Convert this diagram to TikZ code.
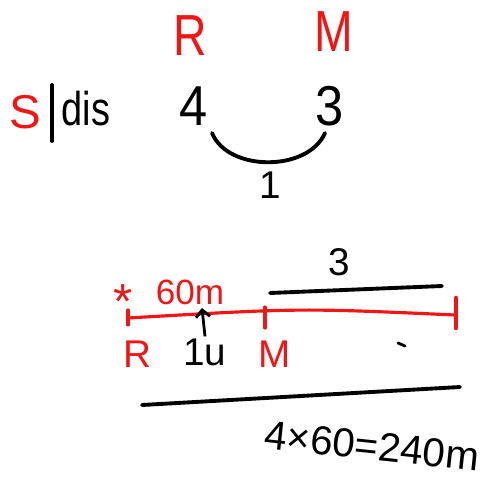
\documentclass[tikz,border=0pt]{standalone}
\usepackage{fontspec}
\setmainfont{Liberation Sans}
\usetikzlibrary{arrows.meta}
\definecolor{inkred}{RGB}{240,22,22}
\tikzset{
  redlbl/.style={text=inkred, font=\fontsize{22}{22}\selectfont, inner sep=1pt},
  toplbl/.style={text=inkred, font=\fontsize{33}{33}\selectfont, xscale=0.8, inner sep=1pt},
  blklbl/.style={text=black, font=\fontsize{22}{22}\selectfont, inner sep=1pt},
  bignum/.style={text=black, font=\fontsize{32}{32}\selectfont, xscale=0.9, inner sep=1pt},
  inkline/.style={line width=2.2pt, line cap=round},
  redline/.style={inkred, line width=1.8pt, line cap=round}
}

\begin{document}
\begin{tikzpicture}[x=0.02cm, y=-0.02cm]
  \useasboundingbox (0,0) rectangle (487,487);
  % ratio of speeds
  \node[toplbl] (topR) at (190,36) {R};
  \node[toplbl] (topM) at (334,32) {M};
  \node[redlbl, font=\fontsize{27}{27}\selectfont] (spd) at (25,112) {S};
  \node[blklbl, font=\fontsize{27}{27}\selectfont, xscale=0.8] (dis) at (86,109) {dis};
  \coordinate (bartop) at (52,85);
  \coordinate (barbot) at (52,141);
  \draw[inkline] (bartop) -- (barbot);
  \node[bignum] (rnum) at (194,106) {4};
  \node[bignum] (mnum) at (330,106) {3};
  \coordinate (arcL) at (212,133);
  \coordinate (arcR) at (325,133);
  \draw[inkline] (arcL) .. controls (228,172) and (308,172) .. (arcR);
  \node[blklbl] (diff) at (270,185) {1};

  % track
  \node[blklbl] (gap) at (339,262) {3};
  \coordinate (gapL) at (270,293);
  \coordinate (gapR) at (442,286);
  \draw[inkline] (gapL) -- (gapR);
  \node[redlbl, font=\fontsize{28}{28}\selectfont] (star) at (123,302) {*};
  \node[redlbl, font=\fontsize{20}{20}\selectfont] (sixty) at (190,292) {60m};
  \coordinate (start) at (128,318);
  \coordinate (meet) at (265,315);
  \coordinate (finish) at (455,315);
  \draw[redline] (start) .. controls (300,308) .. (finish);
  \draw[redline] (128,310) -- (128,325);
  \draw[redline] (265,307) -- (265,328);
  \draw[redline, line width=2.6pt] (456,298) -- (456,328);
  \node[blklbl] (unit) at (205,352) {1u};
  \coordinate (unitup) at (202,308);
  \draw[line width=1.6pt, -{Straight Barb[length=4pt]}] (unit.north) -- (unitup);
  \node[redlbl] (lowR) at (137,354) {R};
  \node[redlbl] (lowM) at (275,354) {M};
  \draw[line width=1.6pt, line cap=round] (398,343) -- (405,346);

  % total
  \coordinate (totL) at (142,405);
  \coordinate (totR) at (460,387);
  \draw[inkline] (totL) -- (totR);
  \node[blklbl, font=\fontsize{23}{23}\selectfont, rotate=-6] (total) at (372,446) {4×60=240m};
\end{tikzpicture}
\end{document}
